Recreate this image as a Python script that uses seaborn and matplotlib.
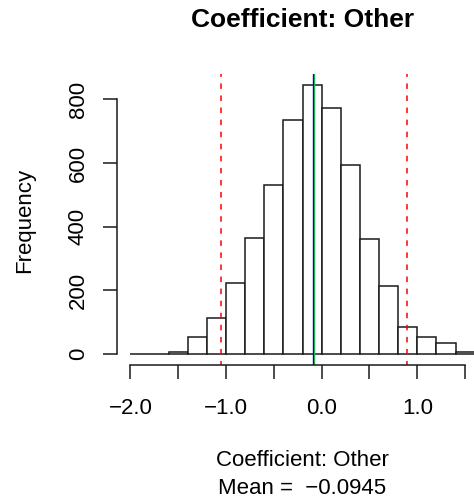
import numpy as np
import pandas as pd
import matplotlib
matplotlib.use("Agg")
import matplotlib.pyplot as plt
import seaborn as sns

# Histogram of bootstrap coefficient draws (bin width 0.2)
bin_edges = [-2.0, -1.8, -1.6, -1.4, -1.2, -1.0, -0.8, -0.6, -0.4, -0.2,
             0.0, 0.2, 0.4, 0.6, 0.8, 1.0, 1.2, 1.4, 1.6]
counts = [2, 1, 6, 53, 115, 222, 366, 531, 735, 844,
          772, 594, 361, 214, 86, 53, 34, 6]

coef_mean = -0.0945
coef_median = -0.077
interval = [-1.057, 0.896]

x_ticks = [-2.0, -1.5, -1.0, -0.5, 0.0, 0.5, 1.0, 1.5]
x_tick_labels = ["\u22122.0", "", "\u22121.0", "", "0.0", "", "1.0", ""]
y_ticks = [0, 200, 400, 600, 800]
y_tick_labels = ["0", "200", "400", "600", "800"]

title = "Coefficient: Other"
x_label = "Coefficient: Other"
mean_label = "Mean =  \u22120.0945"
y_label = "Frequency"

sns.set_theme(style="ticks")
plt.rcParams["font.family"] = ["Liberation Sans", "DejaVu Sans"]
plt.rcParams["text.color"] = "black"
plt.rcParams["xtick.color"] = "black"
plt.rcParams["ytick.color"] = "black"

centers = [(a + b) / 2 for a, b in zip(bin_edges[:-1], bin_edges[1:])]
df = pd.DataFrame({"coef": centers, "n": counts})

fig = plt.figure(figsize=(4.74, 5.04), dpi=100)
ax = fig.add_axes([0.2462, 0.2758, 0.7842, 0.5764])

sns.histplot(data=df, x="coef", weights="n", bins=bin_edges, ax=ax,
             color="white", edgecolor="#1a1a1a", linewidth=1.1, alpha=1.0)

xr = bin_edges[-1] - bin_edges[0]
ax.set_xlim(bin_edges[0] - 0.04 * xr, bin_edges[-1] + 0.04 * xr)
ymax = max(counts)
ax.set_ylim(-0.04 * ymax, 1.04 * ymax)

for v in interval:
    ax.axvline(v, color="red", lw=1.1, linestyle=(1, (3.6, 4.3)))
ax.axvline(coef_median, color="#22dd22", lw=1.0)
ax.axvline(coef_mean, color="blue", lw=1.0)

# R-style axes: detached spines covering the tick range only
for s in ["top", "right"]:
    ax.spines[s].set_visible(False)
for s in ["left", "bottom"]:
    ax.spines[s].set_color("#1a1a1a")
    ax.spines[s].set_linewidth(1.1)
ax.spines["left"].set_bounds(y_ticks[0], y_ticks[-1])
ax.spines["bottom"].set_bounds(x_ticks[0], x_ticks[-1])

ax.set_xticks(x_ticks)
ax.set_xticklabels(x_tick_labels, fontsize=16)
ax.set_yticks(y_ticks)
ax.set_yticklabels(y_tick_labels, fontsize=16, rotation=90, va="center")
ax.tick_params(axis="both", direction="out", length=10, width=1.1,
               color="#1a1a1a", labelcolor="black",
               bottom=True, left=True, top=False, right=False)
ax.tick_params(axis="x", pad=14)
ax.tick_params(axis="y", pad=10)
ax.set_xlabel("")
ax.set_ylabel("")
ax.grid(False)

cx = 302.5 / 474
fig.text(cx, 1 - 20 / 504, title, ha="center", va="center",
         fontsize=19, fontweight="bold", color="black")
fig.text(cx, 1 - 461 / 504, x_label, ha="center", va="center",
         fontsize=16, color="black")
fig.text(cx, 1 - 488 / 504, mean_label, ha="center", va="center",
         fontsize=16, color="black")
fig.text(25 / 474, 1 - 220 / 504, y_label, ha="center", va="center",
         rotation=90, fontsize=16, color="black")

fig.savefig("out.png", dpi=100)
